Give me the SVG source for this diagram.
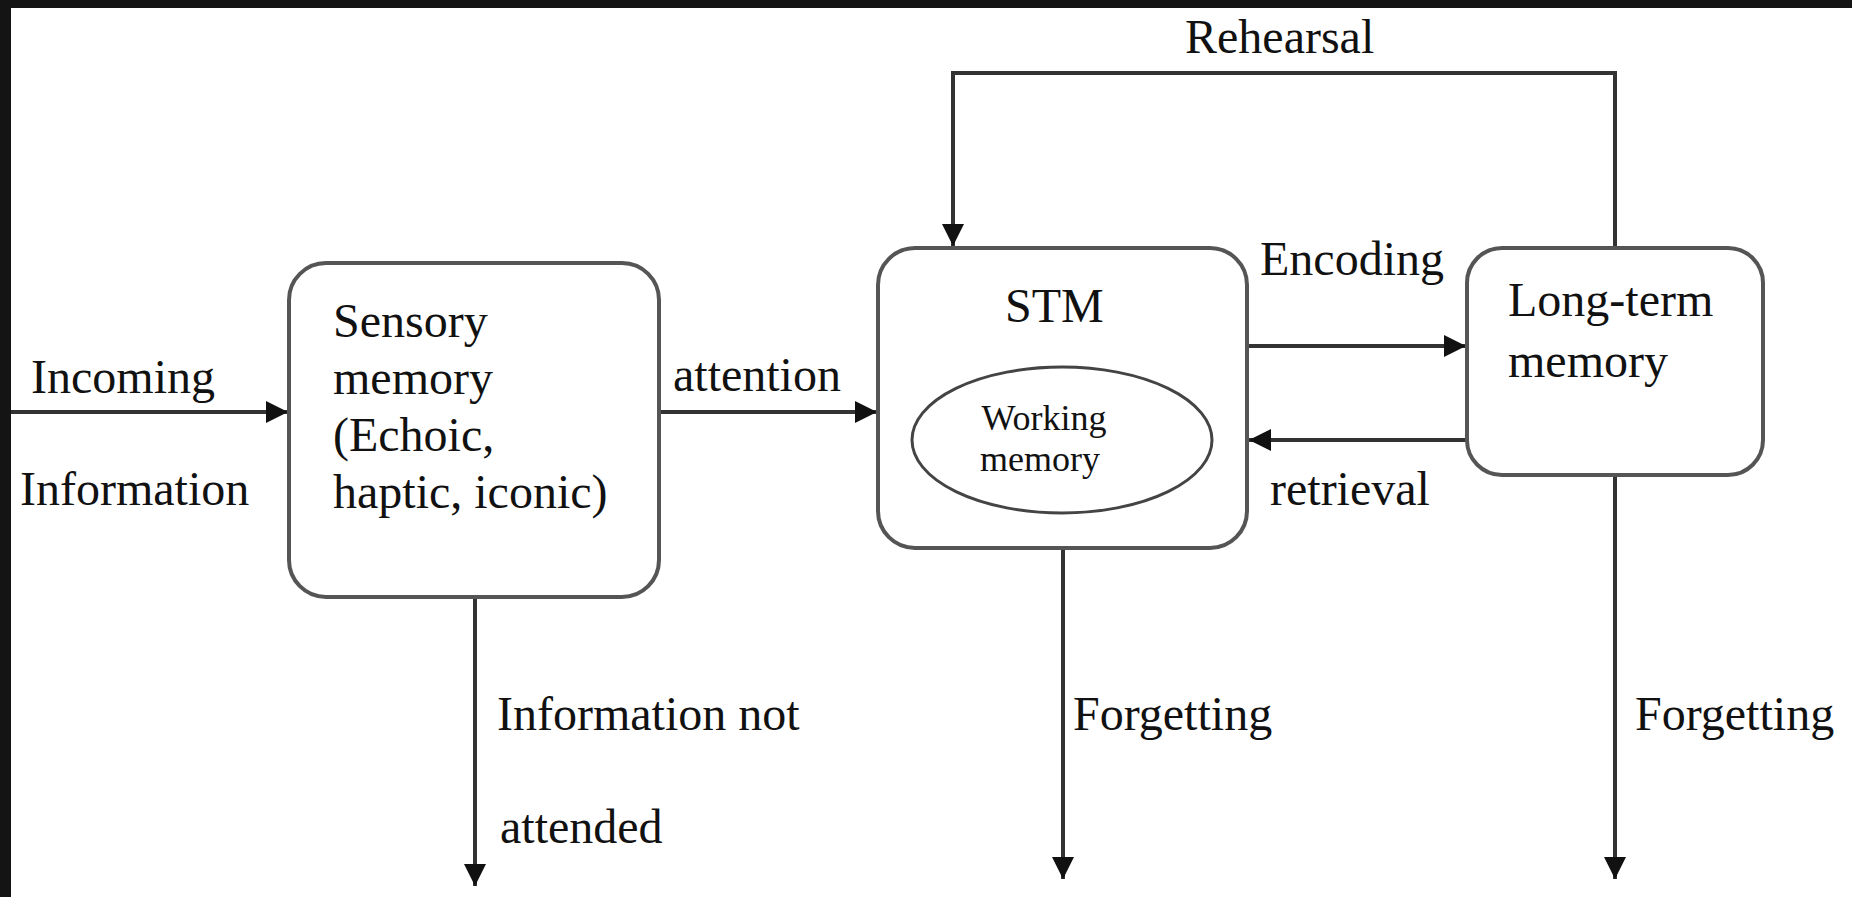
<svg xmlns="http://www.w3.org/2000/svg" width="1852" height="897" viewBox="0 0 1852 897">
<style>
.box{fill:#fff;stroke:#555;stroke-width:4}
.ln{fill:none;stroke:#333;stroke-width:4}
.t{font-family:"Liberation Serif","Times New Roman",serif;font-size:48px;fill:#111}
.s{font-family:"Liberation Serif","Times New Roman",serif;font-size:36px;fill:#111}
</style>
<defs>
<marker id="ah" viewBox="0 0 20 20" refX="20" refY="10" markerWidth="5.5" markerHeight="5.5" orient="auto" markerUnits="strokeWidth">
<path d="M0,0 L20,10 L0,20 Z" fill="#111"/>
</marker>
</defs>
<rect x="0" y="0" width="1852" height="897" fill="#fff"/>
<rect x="0" y="0" width="1852" height="8" fill="#141414"/>
<rect x="0" y="0" width="11" height="897" fill="#141414"/>

<g id="connectors">
<line class="ln" x1="11" y1="412" x2="288" y2="412" marker-end="url(#ah)"/>
<line class="ln" x1="660" y1="412" x2="877" y2="412" marker-end="url(#ah)"/>
<line class="ln" x1="1247" y1="346" x2="1466" y2="346" marker-end="url(#ah)"/>
<line class="ln" x1="1466" y1="440" x2="1249" y2="440" marker-end="url(#ah)"/>
<polyline class="ln" points="1615,248 1615,73 953,73 953,246" marker-end="url(#ah)"/>
<line class="ln" x1="475" y1="597" x2="475" y2="886" marker-end="url(#ah)"/>
<line class="ln" x1="1063" y1="548" x2="1063" y2="879" marker-end="url(#ah)"/>
<line class="ln" x1="1615" y1="475" x2="1615" y2="879" marker-end="url(#ah)"/>
</g>

<g id="sensory">
<rect class="box" x="289" y="263" width="370" height="334" rx="37" ry="37"/>
<text class="t" x="333" y="337">Sensory</text>
<text class="t" x="333" y="394">memory</text>
<text class="t" x="333" y="451">(Echoic,</text>
<text class="t" x="333" y="508">haptic, iconic)</text>
</g>

<g id="stm">
<rect class="box" x="878" y="248" width="369" height="300" rx="37" ry="37"/>
<text class="t" x="1005" y="322">STM</text>
</g>

<g id="working">
<ellipse cx="1062" cy="440" rx="150" ry="73" fill="none" stroke="#444" stroke-width="3"/>
<text class="s" x="1044" y="430" text-anchor="middle">Working</text>
<text class="s" x="1040" y="471" text-anchor="middle">memory</text>
</g>

<g id="ltm">
<rect class="box" x="1467" y="248" width="296" height="227" rx="35" ry="35"/>
<text class="t" x="1508" y="316">Long-term</text>
<text class="t" x="1508" y="377">memory</text>
</g>

<g id="labels">
<text class="t" x="31" y="393">Incoming</text>
<text class="t" x="20" y="505">Information</text>
<text class="t" x="673" y="391">attention</text>
<text class="t" x="1185" y="53">Rehearsal</text>
<text class="t" x="1260" y="275">Encoding</text>
<text class="t" x="1270" y="505">retrieval</text>
<text class="t" x="497" y="730">Information not</text>
<text class="t" x="500" y="843">attended</text>
<text class="t" x="1073" y="730">Forgetting</text>
<text class="t" x="1635" y="730">Forgetting</text>
</g>
</svg>
